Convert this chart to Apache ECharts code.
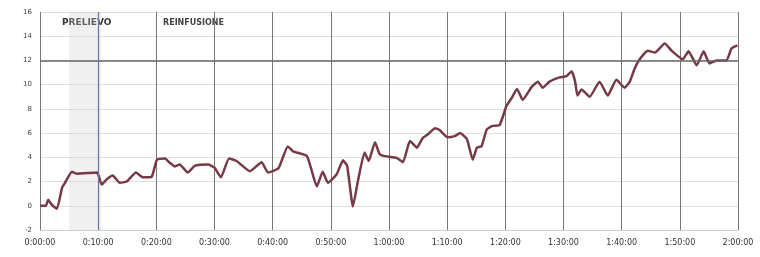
<!DOCTYPE html>
<html>
<head>
<meta charset="utf-8">
<script src="https://cdn.jsdelivr.net/npm/echarts@6/dist/echarts.min.js"></script>
<style>
html, body { margin: 0; padding: 0; background: #fff; }
#chart { width: 760px; height: 257px; }
</style>
</head>
<body>
<div id="chart"></div>
<script>
// minutes from start
var minutes = [0, 1, 1.4, 2, 2.9, 3.8, 4.3, 5.5, 6.3, 9.8, 10.6, 11.5, 12.5, 13.7, 14.9, 16.5, 17.7, 19.2,
    20.1, 21.5, 22.3, 23.2, 24, 25.4, 26.6, 28.9, 30, 31.1, 32.5, 33.8, 36.1, 38.1, 39.2, 41,
    42.6, 43.5, 45.9, 47.6, 48.6, 49.5, 51, 52.1, 52.8, 53.8, 54.6, 55.8, 56.5, 57.6, 58.4, 59.3,
    61.3, 62.4, 63.6, 64.8, 65.8, 66.7, 67.9, 68.7, 70.1, 71.3, 72.2, 73.4, 74.4, 75.1, 75.9, 76.8,
    77.8, 79, 80.2, 81.1, 82, 83, 84.5, 85.6, 86.4, 87.6, 89.3, 90.5, 91.4, 92, 92.4, 93.1, 94.5,
    96.2, 97.6, 99.1, 100.5, 101.4, 102.2, 103.1, 104.5, 105.7, 107.4, 108.6, 110.5, 111.5, 112.9,
    114.1, 115.1, 116.3, 118, 118.9, 119.9];
var values = [0, 0, 0.5, 0.1, -0.25, 1.5, 1.9, 2.8, 2.65, 2.75, 1.75, 2.2, 2.5, 1.9, 2.0, 2.75, 2.35, 2.4,
    3.8, 3.9, 3.55, 3.25, 3.4, 2.75, 3.3, 3.4, 3.15, 2.35, 3.9, 3.7, 2.85, 3.6, 2.75, 3.1,
    4.9, 4.5, 4.1, 1.6, 2.8, 1.9, 2.6, 3.75, 3.3, -0.05, 1.9, 4.4, 3.7, 5.25, 4.25, 4.1,
    3.95, 3.6, 5.35, 4.8, 5.6, 5.9, 6.4, 6.25, 5.65, 5.75, 6.0, 5.5, 3.8, 4.8, 4.9, 6.3,
    6.6, 6.65, 8.25, 8.9, 9.65, 8.75, 9.8, 10.25, 9.75, 10.25, 10.6, 10.7, 11.1, 10.25, 9.1, 9.6, 9.0,
    10.25, 9.1, 10.4, 9.75, 10.25, 11.3, 12.1, 12.8, 12.65, 13.4, 12.8, 12.1, 12.75, 11.6,
    12.75, 11.75, 12.0, 12.0, 13.0, 13.25];
var threshold = 12;
var prelievoSpan = [5, 10.5];
var phaseLabels = ['PRELIEVO', 'REINFUSIONE'];

function fmtTime(m) {
    var h = Math.floor(m / 60), mm = m % 60;
    return h + ':' + (mm < 10 ? '0' : '') + mm + ':00';
}

var myChart = echarts.init(document.getElementById('chart'));
var option = {
    animation: false,
    grid: { left: 40, right: 22, top: 12, bottom: 27 },
    xAxis: {
        type: 'value',
        min: 0,
        max: 120,
        interval: 10,
        axisLine: { show: true, onZero: false, lineStyle: { color: '#ccc' } },
        axisTick: { show: false },
        axisLabel: {
            formatter: fmtTime,
            color: '#333',
            fontSize: 8,
            fontFamily: 'DejaVu Sans',
            margin: 9
        },
        splitLine: { show: true, lineStyle: { color: '#777', width: 1 } }
    },
    yAxis: {
        type: 'value',
        min: -2,
        max: 16,
        interval: 2,
        axisLine: { show: false },
        axisTick: { show: false },
        axisLabel: { color: '#444', fontSize: 7, fontFamily: 'DejaVu Sans', margin: 8 },
        splitLine: { lineStyle: { color: '#e0e0e0' } }
    },
    graphic: [
        { type: 'text', left: 62, top: 18, style: { text: phaseLabels[0], fill: '#333', font: 'bold 9px DejaVu Sans' } },
        { type: 'text', left: 163, top: 19, style: { text: phaseLabels[1], fill: '#444', font: 'bold 8px DejaVu Sans' } }
    ],
    series: [
        {
            type: 'line',
            data: minutes.map(function (m, i) { return [m, values[i]]; }),
            showSymbol: false,
            smooth: 0.15,
            lineStyle: { color: '#763a46', width: 2.5 },
            markArea: {
                silent: true,
                itemStyle: { color: 'rgba(205,205,210,0.3)' },
                data: [[{ xAxis: prelievoSpan[0] }, { xAxis: prelievoSpan[1] }]]
            },
            markLine: {
                silent: true,
                symbol: 'none',
                label: { show: false },
                lineStyle: { color: '#666', width: 1.5, type: 'solid' },
                data: [{ yAxis: threshold }, { xAxis: 10, lineStyle: { color: '#6a74a8', width: 1.2 } }]
            }
        }
    ]
};
myChart.setOption(option);
</script>
</body>
</html>
